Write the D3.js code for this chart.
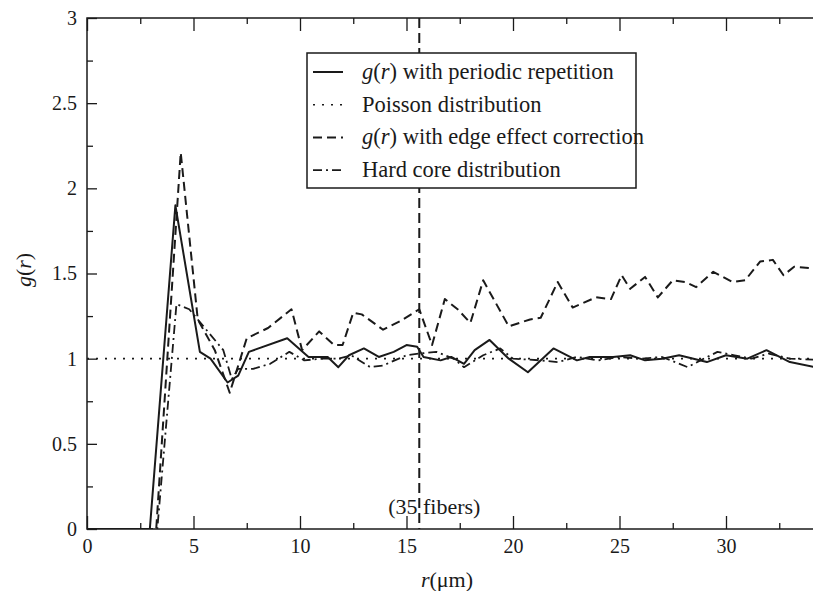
<!DOCTYPE html>
<html>
<head>
<meta charset="utf-8">
<script src="https://cdn.jsdelivr.net/npm/d3@7"></script>
<style>
  body { margin: 0; background: #fff; }
  svg { display: block; font-family: "Liberation Serif", "Times New Roman", serif; }
</style>
</head>
<body>
<div id="chart"></div>
<script>
// g(r) with periodic repetition (solid)
const periodicR = [0, 2.95, 4.15, 5.3, 5.8, 6.6, 7.1, 7.6, 9.4, 10.4, 11.3, 11.8, 12.3, 13.0, 13.7, 14.4, 15.0, 15.5, 15.8, 16.6, 17.1, 17.7, 18.2, 18.9, 19.8, 20.7, 21.9, 23.0, 23.6, 24.7, 25.5, 26.2, 27.0, 27.8, 29.1, 30.0, 31.0, 31.9, 33.0, 35.0];
const periodicG = [0, 0, 1.9, 1.04, 1.0, 0.86, 0.9, 1.04, 1.12, 1.01, 1.01, 0.95, 1.02, 1.06, 1.01, 1.04, 1.08, 1.07, 1.01, 0.99, 1.01, 0.97, 1.05, 1.11, 1.0, 0.92, 1.06, 0.99, 1.01, 1.01, 1.02, 0.99, 1.0, 1.02, 0.98, 1.02, 1.0, 1.05, 0.98, 0.93];

// g(r) with edge effect correction (dashed)
const edgeR = [0, 3.25, 4.4, 5.2, 6.0, 6.7, 7.5, 8.5, 9.6, 10.1, 10.9, 11.6, 12.0, 12.5, 12.9, 13.9, 14.7, 15.6, 16.2, 16.8, 17.4, 18.0, 18.6, 19.8, 20.8, 21.3, 22.1, 22.8, 23.9, 24.6, 25.1, 25.5, 26.2, 26.8, 27.5, 28.1, 28.6, 29.4, 30.3, 30.9, 31.6, 32.2, 32.7, 33.2, 35.0];
const edgeG = [0, 0, 2.21, 1.23, 1.05, 0.8, 1.12, 1.18, 1.29, 1.05, 1.16, 1.08, 1.08, 1.27, 1.26, 1.17, 1.22, 1.29, 1.08, 1.35, 1.29, 1.21, 1.46, 1.19, 1.23, 1.24, 1.45, 1.3, 1.36, 1.35, 1.49, 1.41, 1.48, 1.36, 1.46, 1.45, 1.42, 1.51, 1.45, 1.46, 1.57, 1.58, 1.49, 1.54, 1.52];

// Hard core distribution (dash-dot)
const hardR = [0, 3.3, 4.2, 4.8, 5.6, 6.4, 6.8, 7.1, 7.8, 8.6, 9.5, 10.2, 11.0, 11.8, 12.4, 13.3, 13.9, 15.0, 15.6, 16.4, 17.2, 17.7, 18.6, 19.4, 20.0, 21.3, 22.1, 23.0, 24.0, 25.0, 26.0, 27.0, 28.2, 28.8, 29.6, 30.4, 31.2, 32.0, 33.0, 35.0];
const hardG = [0, 0, 1.32, 1.29, 1.17, 1.05, 0.88, 0.94, 0.94, 0.97, 1.04, 0.99, 1.0, 1.0, 1.02, 0.95, 0.96, 1.02, 1.03, 1.04, 1.0, 0.95, 1.02, 1.06, 1.0, 0.99, 0.98, 1.01, 0.99, 1.01, 1.0, 1.01, 0.95, 0.99, 1.04, 1.02, 1.0, 1.03, 1.0, 0.99];

// Poisson distribution (dotted)
const poissonR = [0, 35];
const poissonG = [1, 1];

const xTicks = [0, 5, 10, 15, 20, 25, 30];
const xMinor = [2.5, 7.5, 12.5, 17.5, 22.5, 27.5, 32.5];
const yTicks = [0, 0.5, 1, 1.5, 2, 2.5, 3];
const yMinor = [0.25, 0.75, 1.25, 1.75, 2.25, 2.75];
const fiberR = 15.6;

const W = 813, H = 591;
const ink = "#1a1a1a";

const x = d3.scaleLinear().domain([0, 35]).range([87, 87 + 35 * 21.3]);
const y = d3.scaleLinear().domain([0, 3]).range([529, 18]);

const svg = d3.select("#chart").append("svg").attr("width", W).attr("height", H);

// frame
svg.append("rect").attr("x", x(0)).attr("y", y(3)).attr("width", x(35) - x(0)).attr("height", y(0) - y(3))
    .attr("fill", "none").attr("stroke", ink).attr("stroke-width", 1.5);

// axes, ticks pointing inwards
const styleAxis = g => {
    g.select(".domain").remove();
    g.selectAll(".tick line").attr("stroke", ink).attr("stroke-width", 1.3);
    g.selectAll(".tick text").attr("fill", ink).style("font-size", "20px").style("font-family", "Liberation Serif, serif");
};
svg.append("g").attr("transform", `translate(0,${y(0)})`)
    .call(d3.axisBottom(x).tickValues(xTicks).tickSize(-13).tickPadding(10).tickFormat(d3.format("d"))).call(styleAxis);
svg.append("g").attr("transform", `translate(0,${y(0)})`)
    .call(d3.axisBottom(x).tickValues(xMinor).tickSize(-6).tickFormat("")).call(styleAxis);
svg.append("g").attr("transform", `translate(0,${y(3)})`)
    .call(d3.axisTop(x).tickValues(xTicks).tickSize(-13).tickFormat("")).call(styleAxis);
svg.append("g").attr("transform", `translate(0,${y(3)})`)
    .call(d3.axisTop(x).tickValues(xMinor).tickSize(-6).tickFormat("")).call(styleAxis);
svg.append("g").attr("transform", `translate(${x(0)},0)`)
    .call(d3.axisLeft(y).tickValues(yTicks).tickSize(-10).tickPadding(10).tickFormat(d3.format("~g"))).call(styleAxis);
svg.append("g").attr("transform", `translate(${x(0)},0)`)
    .call(d3.axisLeft(y).tickValues(yMinor).tickSize(-6).tickFormat("")).call(styleAxis);

// clip curves to the plot area
svg.append("clipPath").attr("id", "plot").append("rect")
    .attr("x", x(0)).attr("y", y(3)).attr("width", x(35) - x(0)).attr("height", y(0) - y(3));

const line = d3.line().x(d => x(d[0])).y(d => y(d[1]));
const zip = (rs, gs) => rs.map((r, i) => [r, gs[i]]);

const series = [
    { name: "periodic", label: "with periodic repetition", gr: true, data: zip(periodicR, periodicG), dash: null, width: 2 },
    { name: "poisson", label: "Poisson distribution", gr: false, data: zip(poissonR, poissonG), dash: "2,7", width: 1.6 },
    { name: "edge", label: "with edge effect correction", gr: true, data: zip(edgeR, edgeG), dash: "9,5", width: 2 },
    { name: "hard", label: "Hard core distribution", gr: false, data: zip(hardR, hardG), dash: "9,4,2,4", width: 1.8 }
];

const plot = svg.append("g").attr("clip-path", "url(#plot)");

// fiber count marker
plot.append("line").attr("x1", x(fiberR)).attr("x2", x(fiberR)).attr("y1", y(3)).attr("y2", y(0))
    .attr("stroke", ink).attr("stroke-width", 2).attr("stroke-dasharray", "10,5");

series.forEach(s => {
    plot.append("path").datum(s.data).attr("d", line)
        .attr("fill", "none").attr("stroke", ink).attr("stroke-width", s.width)
        .attr("stroke-linejoin", "round")
        .attr("stroke-dasharray", s.dash);
});

svg.append("text").attr("x", x(fiberR) + 15).attr("y", 514).attr("text-anchor", "middle")
    .attr("fill", ink).style("font-size", "22px").text("(35 fibers)");

// legend
const legend = svg.append("g");
legend.append("rect").attr("x", 307).attr("y", 53).attr("width", 329).attr("height", 135)
    .attr("fill", "#fff").attr("stroke", ink).attr("stroke-width", 1.5);
series.forEach((s, i) => {
    const cy = 72 + i * 32.7;
    legend.append("line").attr("x1", 313).attr("x2", 343).attr("y1", cy).attr("y2", cy)
        .attr("stroke", ink).attr("stroke-width", s.width).attr("stroke-dasharray", s.dash);
    const t = legend.append("text").attr("x", 362).attr("y", cy + 7).attr("fill", ink).style("font-size", "22.5px");
    if (s.gr) {
        t.append("tspan").style("font-style", "italic").text("g");
        t.append("tspan").text("(");
        t.append("tspan").style("font-style", "italic").text("r");
        t.append("tspan").text(") " + s.label);
    } else {
        t.text(s.label);
    }
});

// axis titles
const xt = svg.append("text").attr("x", 447).attr("y", 587).attr("text-anchor", "middle").attr("fill", ink).style("font-size", "22px");
xt.append("tspan").style("font-style", "italic").text("r");
xt.append("tspan").text("(μm)");

const yt = svg.append("text").attr("transform", "translate(31,270) rotate(-90)").attr("text-anchor", "middle").attr("fill", ink).style("font-size", "22px");
yt.append("tspan").style("font-style", "italic").text("g");
yt.append("tspan").text("(");
yt.append("tspan").style("font-style", "italic").text("r");
yt.append("tspan").text(")");
</script>
</body>
</html>
